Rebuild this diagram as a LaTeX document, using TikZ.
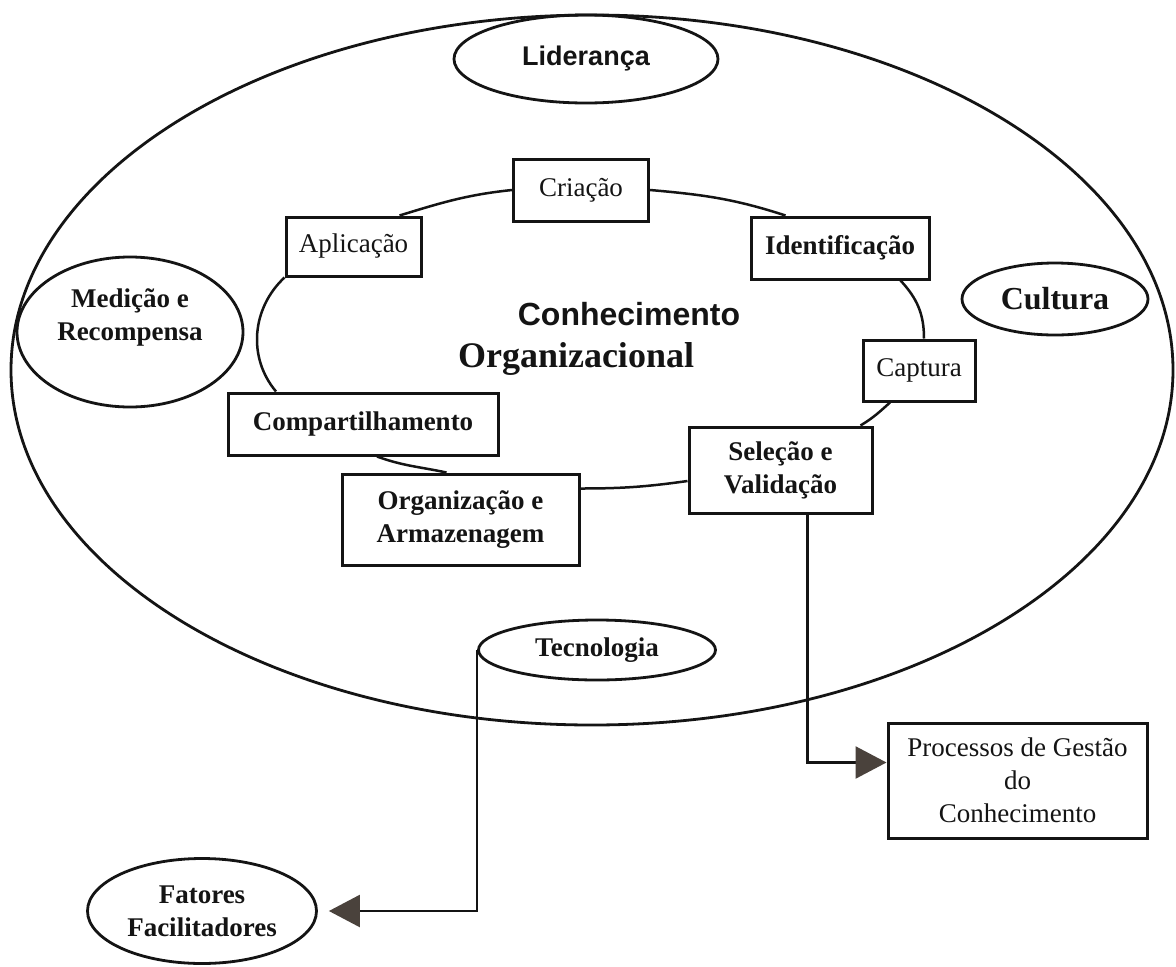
\documentclass[tikz,border=0pt]{standalone}
\usepackage{fontspec}
\setmainfont{Liberation Serif}
\setsansfont{Liberation Sans}
\usetikzlibrary{shapes.geometric,arrows.meta}
\definecolor{tinta}{HTML}{141414}
\definecolor{ponta}{HTML}{4A423C}
\begin{document}
\begin{tikzpicture}[x=1pt,y=1pt,
  every node/.style={font=\fontsize{27}{33}\selectfont, text=tinta, inner sep=0pt, align=center},
  caixa/.style={draw=tinta, line width=3pt, rectangle},
  caixab/.style={caixa, font=\bfseries\fontsize{27}{33}\selectfont},
  oval/.style={draw=tinta, line width=2.8pt, ellipse},
  ovalb/.style={oval, font=\bfseries\fontsize{27}{33}\selectfont},
  elo/.style={draw=tinta, line width=2.5pt},
  seta/.style={draw=tinta, line width=2.5pt, -{Triangle[length=31pt,width=32pt,color=ponta]}}
]
\useasboundingbox (0,0) rectangle (1176,-967);
\fill[white] (0,0) rectangle (1176,-967);

% outer boundary of the organisation
\node[oval, minimum width=1162pt, minimum height=710pt] (mundo) at (592,-370) {};

% enabling factors (ellipses)
\node[oval, minimum width=264pt, minimum height=88pt,
      font=\sffamily\bfseries\fontsize{27}{33}\selectfont] (lid) at (586,-59) {Liderança};
\node[oval, minimum width=186pt, minimum height=72pt,
      font=\bfseries\fontsize{32}{38}\selectfont] (cul) at (1055,-299) {Cultura};
\node[oval, minimum width=226pt, minimum height=150pt,
      label={[align=center, yshift=15pt, font=\bfseries\fontsize{27}{33}\selectfont]center:Medição e\\Recompensa}] (med) at (130,-332) {};
\node[ovalb, minimum width=237pt, minimum height=60pt] (tec) at (597,-650) {Tecnologia};
\node[ovalb, minimum width=229pt, minimum height=105pt] (fat) at (202,-911) {Fatores\\Facilitadores};

% central title
\node[anchor=base, font=\sffamily\bfseries\fontsize{32}{38}\selectfont] (conh) at (629,-325) {Conhecimento};
\node[anchor=base, font=\bfseries\fontsize{36}{42}\selectfont] (orgz) at (576,-367) {Organizacional};

% knowledge management process steps
\node[caixa,  minimum width=135pt, minimum height=62pt] (cria) at (581,-190) {Criação};
\node[caixa,  minimum width=135pt, minimum height=59pt] (apl)  at (353.5,-246.5) {Aplicação};
\node[caixab, minimum width=178pt, minimum height=62pt] (ide)  at (840,-248) {Identificação};
\node[caixa,  minimum width=112pt, minimum height=61pt] (cap)  at (919,-370.5) {Captura};
\node[caixab, minimum width=270pt, minimum height=62pt] (comp) at (363,-424) {Compartilhamento};
\node[caixab, minimum width=183pt, minimum height=86pt] (sel)  at (780.5,-470) {Seleção e\\Validação};
\node[caixab, minimum width=237pt, minimum height=91pt] (org)  at (460.5,-519.5) {Organização e\\Armazenagem};
\node[caixa,  minimum width=259pt, minimum height=115pt] (proc) at (1017.5,-780.5) {Processos de Gestão\\do\\Conhecimento};

% cycle linking the steps
\draw[elo] (cria.west) to[out=186,in=17] ([xshift=-23pt]apl.north east);
\draw[elo] (cria.east) to[out=-5,in=162] ([xshift=36pt]ide.north west);
\draw[elo] ([xshift=-30pt]ide.south east) to[out=-47,in=90] ([xshift=5pt]cap.north);
\draw[elo] ([xshift=-29pt]cap.south) to[out=-138,in=31] ([xshift=-13pt]sel.north east);
\draw[elo] ([yshift=-11pt]sel.west) to[out=188,in=0] ([yshift=31pt]org.east);
\draw[elo] ([xshift=14pt]comp.south) to[out=-20,in=168] ([xshift=-14pt]org.north);
\draw[elo] ([xshift=-87pt]comp.north) to[out=130,in=-137] (apl.south west);

% legend arrows
\draw[seta] ([xshift=27pt]sel.south) |- ([yshift=18pt]proc.west);
\draw[seta, shorten >=11pt] (tec.west) |- (fat.east);
\end{tikzpicture}
\end{document}
